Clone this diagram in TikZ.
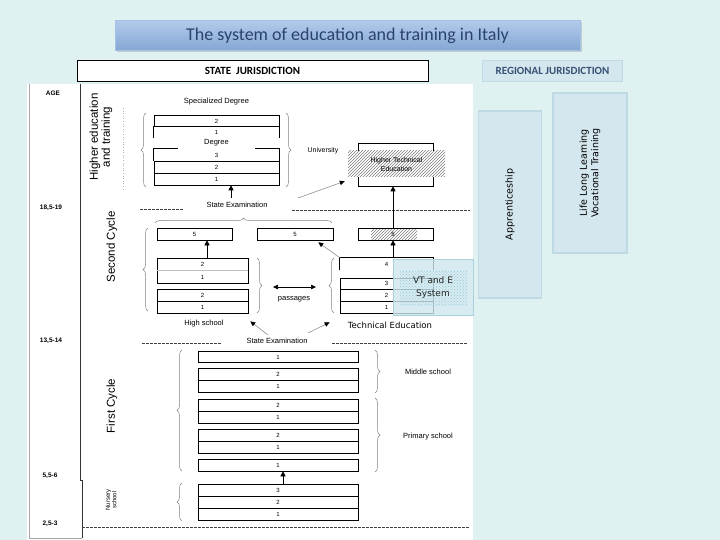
\documentclass[tikz,border=0pt]{standalone}
\usepackage{fontspec}
\setmainfont{Liberation Sans}
\newfontfamily\calib{Carlito}
\newfontfamily\dvs{DejaVu Sans}
\usetikzlibrary{patterns,decorations.pathreplacing,arrows.meta,shadows}
\definecolor{bgc}{RGB}{224,241,242}
\definecolor{titletop}{RGB}{178,202,234}
\definecolor{titlebot}{RGB}{132,168,212}
\definecolor{titleedge}{RGB}{165,192,226}
\definecolor{titletxt}{RGB}{42,66,110}
\definecolor{regfill}{RGB}{212,231,238}
\definecolor{regdraw}{RGB}{190,218,228}
\definecolor{regtxt}{RGB}{55,80,115}
\definecolor{bracec}{RGB}{130,130,130}
\definecolor{vtfill}{RGB}{205,230,238}
\definecolor{vtdraw}{RGB}{170,208,222}
\definecolor{vtdot}{RGB}{150,200,215}
\begin{document}
\begin{tikzpicture}[x=1pt,y=-1pt,
  cell/.style={draw=black, line width=0.6pt, minimum height=12pt, inner sep=0pt, font=\fontsize{6}{6}\selectfont},
  dig/.style={inner sep=0pt, font=\fontsize{6}{6}\selectfont},
  lbl/.style={inner sep=0pt, font=\fontsize{7.5}{8}\selectfont},
  agel/.style={inner sep=0pt, font=\bfseries\fontsize{6.5}{7}\selectfont},
  brc/.style={draw=bracec, line width=0.5pt, decorate, decoration={brace, amplitude=5pt}},
  arr/.style={draw=black, line width=0.6pt, -{Triangle[length=5pt,width=5pt]}},
  garr/.style={draw=gray, line width=0.5pt, -{Triangle[length=5pt,width=4.5pt,color=black]}},
  dsh/.style={draw=black!75, line width=0.5pt, dash pattern=on 2.5pt off 1.5pt},
  cyc/.style={rotate=90, inner sep=0pt, font=\fontsize{11.5}{12}\selectfont, align=center},
  sidebox/.style={draw=regdraw, fill=regfill, line width=1.5pt, inner sep=0pt},
  sidetxt/.style={rotate=90, inner sep=0pt, align=center, font=\dvs\fontsize{9.5}{11.5}\selectfont},
  titlebox/.style={minimum width=465pt, minimum height=30pt, top color=titletop, bottom color=titlebot,
     draw=titleedge, line width=0.6pt, drop shadow={opacity=0.3, shadow xshift=1.5pt, shadow yshift=-2pt},
     font=\calib\fontsize{18}{18}\selectfont, text=titletxt},
  jur/.style={minimum height=21pt, inner sep=0pt, font=\calib\bfseries\fontsize{11}{11}\selectfont},
]
% background and frame
\fill[bgc] (0,0) rectangle (720,540);
\useasboundingbox (0,0) rectangle (720,540);

% title and headers
\node[titlebox] (title) at (347.5,35.5) {The system of education and training in Italy};
\node[jur, draw=black, fill=white, line width=0.8pt, minimum width=351pt] (state) at (252.5,70.5) {STATE\ \ JURISDICTION};
\node[jur, draw=regdraw, fill=regfill, line width=0.8pt, minimum width=140pt, text=regtxt] (reg) at (552.5,71) {REGIONAL JURISDICTION};

% white panel
\fill[white] (27,84) rectangle (473,540);

% side boxes (regional)
\node[sidebox, minimum width=63pt, minimum height=187pt] (appr) at (510,204.5) {};
\node[sidetxt] (apprt) at (appr) {Apprenticeship};
\node[sidebox, minimum width=74pt, minimum height=160pt] (lll) at (590,173) {};
\node[sidetxt] (lllt) at (lll) {Life Long Learning\\Vocational Training};

% age column
\draw[gray!70, line width=0.6pt] (29,84) -- (29,538) -- (82,538);
\draw[black!80, line width=0.7pt] (80,84) -- (80,480) -- (82,480) -- (82,538);
\node[agel] (age) at (53,93) {AGE};
\node[agel] (a1) at (51,208) {18,5-19};
\node[agel] (a2) at (51,341) {13,5-14};
\node[agel] (a3) at (50,476) {5,5-6};
\node[agel] (a4) at (50,524) {2,5-3};

% cycle labels
\node[cyc] (hed) at (101,137) {Higher education\\and training};
\draw[gray!60, dotted, line width=0.6pt] (123,108) -- (123,190);
\node[cyc] (sec) at (112,247) {Second Cycle};
\node[cyc] (fst) at (112,406) {First Cycle};
\node[cyc, font=\fontsize{6}{6.5}\selectfont] (nur) at (111,500) {Nursery\\school};

% ---------------- higher education ----------------
\node[lbl] (spec) at (216.5,102) {Specialized Degree};
\node[cell, minimum width=125pt, minimum height=11pt] (hA2) at (216.5,121) {2};
\node[cell, draw=none, minimum width=125pt, minimum height=11pt] (hA1) at (216.5,132) {1};
\draw[line width=0.6pt] (hA1.north west) -- (hA1.south west) (hA1.north east) -- (hA1.south east);
\node[lbl] (deg) at (216.5,143) {Degree};
\node[cell, draw=none, minimum width=125pt] (hB3) at (216.5,155) {3};
\draw[line width=0.6pt] ([xshift=24pt]hB3.north west) -- (hB3.north west) -- (hB3.south west)
  ([xshift=-24pt]hB3.north east) -- (hB3.north east) -- (hB3.south east);
\node[cell, minimum width=125pt] (hB2) at (216.5,167) {2};
\node[cell, minimum width=125pt] (hB1) at (216.5,179) {1};
\draw[brc] (146,187) -- (146,113);
\draw[brc] (286,113) -- (286,187);
\node[lbl, font=\fontsize{7}{7}\selectfont] (univ) at (323,151) {University};

\node[lbl] (se1) at (237,205) {State Examination};
\coordinate (se1a) at (231,198);
\draw[arr] (se1a) -- (se1a |- hB1.south);
\draw[dsh] (140,209) -- (184,209);
\draw[dsh] (292,210) -- (470,210);

% higher technical education
\node[draw, line width=0.6pt, minimum width=75pt, minimum height=43pt] (htbox) at (395.5,164.5) {};
\node[preaction={fill=white}, pattern=north east lines, pattern color=gray, minimum width=97pt, minimum height=26pt,
  inner sep=0pt, align=center, font=\fontsize{7}{9}\selectfont] (hte) at (396.5,164) {Higher Technical\\Education};
\coordinate (g1) at (298,198);
\draw[garr] (g1) -- ([xshift=-3pt,yshift=-4pt]hte.south west);

% ---------------- second cycle ----------------
\draw[brc] (155,223) -- (332,223);
\node[cell, minimum width=75pt] (s5a) at (194.5,234) {5};
\node[cell, minimum width=76pt] (s5b) at (295,234) {5};
\path[pattern=north east lines, pattern color=gray] (371,228.5) rectangle (417,239.5);
\node[cell, minimum width=75pt] (s5c) at (395.5,234) {};
\node[dig] (s5cl) at (393,234) {5};
\draw[arr] ([xshift=-2.5pt]s5c.north) -- ([xshift=-2.5pt]s5c.north |- htbox.south);

\node[cell, minimum width=91pt, minimum height=25pt] (hsU) at (202.5,270.5) {};
\draw[gray!50, line width=0.4pt] (hsU.west) -- (hsU.east);
\node[dig] (hsU2) at (202.5,264.5) {2};
\node[dig] (hsU1) at (202.5,277) {1};
\node[cell, minimum width=91pt] (hsL2) at (202.5,295) {2};
\node[cell, minimum width=91pt] (hsL1) at (202.5,307) {1};
\draw[arr] ([xshift=4.5pt]hsU.north) -- ([xshift=4.5pt]hsU.north |- s5a.south);
\draw[brc] (148,311) -- (148,228);
\draw[brc] (257,258) -- (257,313);

\node[lbl] (pass) at (294,299) {passages};
\coordinate (pL) at (273,287);
\coordinate (pR) at (316,287);
\draw[line width=0.6pt, {Triangle[length=5pt,width=4.5pt]}-{Triangle[length=5pt,width=4.5pt]}] (pL) -- (pR);
\draw[brc] (334,313) -- (334,258);

\node[cell, draw=none, minimum width=93pt] (t4) at (386.5,264) {4};
\draw[line width=0.6pt] (t4.south west) -- (t4.north west) -- (t4.north east) -- (t4.south east);
\node[cell, minimum width=93pt, minimum height=11.67pt] (t3) at (386.5,283.83) {3};
\node[cell, minimum width=93pt, minimum height=11.67pt] (t2) at (386.5,295.5) {2};
\node[cell, minimum width=93pt, minimum height=11.67pt] (t1) at (386.5,307.17) {1};
\draw[arr] ([xshift=6.5pt]t4.north) -- ([xshift=6.5pt]t4.north |- s5c.south);
\draw[garr] (t4.north west) -- ([xshift=-15pt,yshift=-2pt]s5b.south east);

% VT and E system
\node[draw=vtdraw, fill=vtfill, fill opacity=0.8, line width=1pt, minimum width=80pt, minimum height=56pt] (vtbox) at (433,287) {};
\path[pattern=crosshatch dots, pattern color=vtdot] (400,270) rectangle (467,305);
\node[inner sep=0pt, align=center, font=\dvs\fontsize{9}{13}\selectfont, text=black!85] (vt) at (433,288) {VT and E\\System};

\node[lbl] (hsl) at (204,324) {High school};
\node[inner sep=0pt, font=\dvs\fontsize{8.5}{9}\selectfont] (tech) at (390,325) {Technical Education};
\node[lbl] (se2) at (277,341) {State Examination};
\coordinate (se2a) at (268,335);
\coordinate (se2b) at (308,333);
\draw[garr] (se2a) -- ([xshift=2pt,yshift=-8pt]hsL1.south east);
\draw[garr] (se2b) -- ([xshift=-10pt,yshift=-9pt]t1.south west);
\draw[dsh] (142,343) -- (222,343);
\draw[dsh] (332,343) -- (468,343);

% ---------------- first cycle ----------------
\node[cell, minimum width=160pt, minimum height=11pt] (fA1) at (278,357) {1};
\node[cell, minimum width=160pt] (fB2) at (278,374) {2};
\node[cell, minimum width=160pt] (fB1) at (278,386) {1};
\node[cell, minimum width=160pt] (fC2) at (278,405) {2};
\node[cell, minimum width=160pt] (fC1) at (278,417) {1};
\node[cell, minimum width=160pt] (fD2) at (278,435) {2};
\node[cell, minimum width=160pt] (fD1) at (278,447) {1};
\node[cell, minimum width=160pt] (fE1) at (278,465) {1};
\node[cell, minimum width=160pt] (n3) at (278,490) {3};
\node[cell, minimum width=160pt] (n2) at (278,502) {2};
\node[cell, minimum width=160pt] (n1) at (278,514) {1};
\draw[arr] ([xshift=5pt]n3.north) -- ([xshift=5pt]n3.north |- fE1.south);

\draw[brc] (182,471) -- (182,350);
\draw[brc] (182,521) -- (182,483);
\draw[brc] (375,350) -- (375,393);
\draw[brc] (375,398) -- (375,472);
\node[lbl] (mid) at (428,372) {Middle school};
\node[lbl] (pri) at (428,437) {Primary school};

\draw[dsh] (82,527) -- (470,527);
\end{tikzpicture}
\end{document}
